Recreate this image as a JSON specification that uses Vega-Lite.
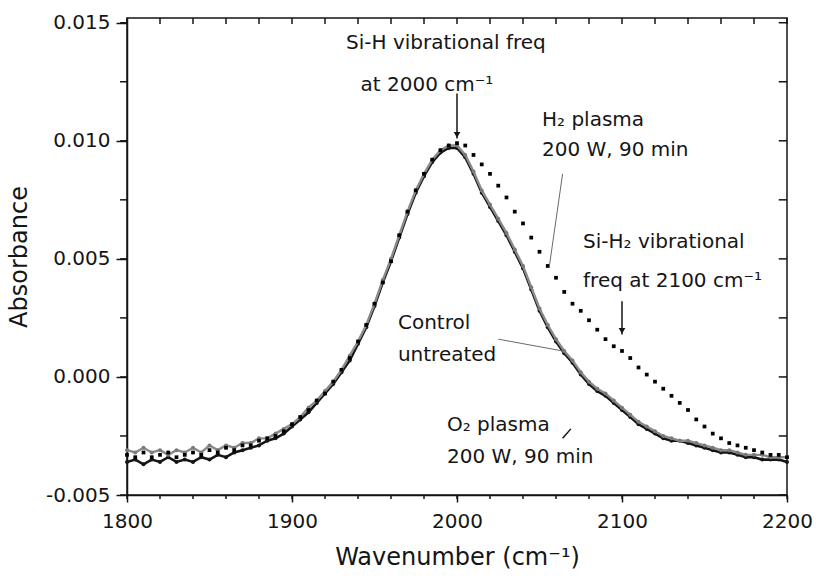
{
  "$schema": "https://vega.github.io/schema/vega-lite/v6.json",
  "autosize": "none",
  "width": 660,
  "height": 477,
  "padding": {"left": 127, "top": 18, "right": 30, "bottom": 89},
  "background": "white",
  "config": {"view": {"stroke": "#151515", "strokeWidth": 1.5}, "font": "DejaVu Sans"},
  "datasets": {
    "spec": [
      {"w":1800,"a":-0.0031,"s":"C"},{"w":1805,"a":-0.0032,"s":"C"},{"w":1810,"a":-0.0030,"s":"C"},{"w":1815,"a":-0.0032,"s":"C"},{"w":1820,"a":-0.0031,"s":"C"},{"w":1825,"a":-0.0033,"s":"C"},{"w":1830,"a":-0.0031,"s":"C"},{"w":1835,"a":-0.0032,"s":"C"},{"w":1840,"a":-0.0030,"s":"C"},{"w":1845,"a":-0.0032,"s":"C"},{"w":1850,"a":-0.0029,"s":"C"},{"w":1855,"a":-0.0031,"s":"C"},{"w":1860,"a":-0.0029,"s":"C"},{"w":1865,"a":-0.0030,"s":"C"},{"w":1870,"a":-0.0028,"s":"C"},{"w":1875,"a":-0.0028,"s":"C"},{"w":1880,"a":-0.0026,"s":"C"},{"w":1885,"a":-0.0026,"s":"C"},{"w":1890,"a":-0.0024,"s":"C"},{"w":1895,"a":-0.0022,"s":"C"},{"w":1900,"a":-0.0020,"s":"C"},{"w":1905,"a":-0.0017,"s":"C"},{"w":1910,"a":-0.0013,"s":"C"},{"w":1915,"a":-0.0010,"s":"C"},{"w":1920,"a":-0.0006,"s":"C"},{"w":1925,"a":-0.0002,"s":"C"},{"w":1930,"a":0.0003,"s":"C"},{"w":1935,"a":0.0009,"s":"C"},{"w":1940,"a":0.0015,"s":"C"},{"w":1945,"a":0.0022,"s":"C"},{"w":1950,"a":0.0031,"s":"C"},{"w":1955,"a":0.0041,"s":"C"},{"w":1960,"a":0.0050,"s":"C"},{"w":1965,"a":0.0060,"s":"C"},{"w":1970,"a":0.0070,"s":"C"},{"w":1975,"a":0.0079,"s":"C"},{"w":1980,"a":0.0086,"s":"C"},{"w":1985,"a":0.0092,"s":"C"},{"w":1990,"a":0.0096,"s":"C"},{"w":1995,"a":0.0098,"s":"C"},{"w":2000,"a":0.0098,"s":"C"},{"w":2005,"a":0.0094,"s":"C"},{"w":2010,"a":0.0087,"s":"C"},{"w":2015,"a":0.0079,"s":"C"},{"w":2020,"a":0.0073,"s":"C"},{"w":2025,"a":0.0067,"s":"C"},{"w":2030,"a":0.0061,"s":"C"},{"w":2035,"a":0.0054,"s":"C"},{"w":2040,"a":0.0047,"s":"C"},{"w":2045,"a":0.0038,"s":"C"},{"w":2050,"a":0.0029,"s":"C"},{"w":2055,"a":0.0022,"s":"C"},{"w":2060,"a":0.0016,"s":"C"},{"w":2065,"a":0.0011,"s":"C"},{"w":2070,"a":0.0007,"s":"C"},{"w":2075,"a":0.0002,"s":"C"},{"w":2080,"a":-0.0002,"s":"C"},{"w":2085,"a":-0.0005,"s":"C"},{"w":2090,"a":-0.0007,"s":"C"},{"w":2095,"a":-0.0010,"s":"C"},{"w":2100,"a":-0.0013,"s":"C"},{"w":2105,"a":-0.0016,"s":"C"},{"w":2110,"a":-0.0019,"s":"C"},{"w":2115,"a":-0.0021,"s":"C"},{"w":2120,"a":-0.0023,"s":"C"},{"w":2125,"a":-0.0025,"s":"C"},{"w":2130,"a":-0.0026,"s":"C"},{"w":2135,"a":-0.0027,"s":"C"},{"w":2140,"a":-0.0027,"s":"C"},{"w":2145,"a":-0.0028,"s":"C"},{"w":2150,"a":-0.0029,"s":"C"},{"w":2155,"a":-0.0030,"s":"C"},{"w":2160,"a":-0.0031,"s":"C"},{"w":2165,"a":-0.0031,"s":"C"},{"w":2170,"a":-0.0032,"s":"C"},{"w":2175,"a":-0.0033,"s":"C"},{"w":2180,"a":-0.0033,"s":"C"},{"w":2185,"a":-0.0033,"s":"C"},{"w":2190,"a":-0.0034,"s":"C"},{"w":2195,"a":-0.0034,"s":"C"},{"w":2200,"a":-0.0034,"s":"C"},
      {"w":1800,"a":-0.0036,"s":"O"},{"w":1805,"a":-0.0035,"s":"O"},{"w":1810,"a":-0.0037,"s":"O"},{"w":1815,"a":-0.0035,"s":"O"},{"w":1820,"a":-0.0036,"s":"O"},{"w":1825,"a":-0.0034,"s":"O"},{"w":1830,"a":-0.0036,"s":"O"},{"w":1835,"a":-0.0035,"s":"O"},{"w":1840,"a":-0.0036,"s":"O"},{"w":1845,"a":-0.0034,"s":"O"},{"w":1850,"a":-0.0035,"s":"O"},{"w":1855,"a":-0.0033,"s":"O"},{"w":1860,"a":-0.0034,"s":"O"},{"w":1865,"a":-0.0032,"s":"O"},{"w":1870,"a":-0.0031,"s":"O"},{"w":1875,"a":-0.0030,"s":"O"},{"w":1880,"a":-0.0029,"s":"O"},{"w":1885,"a":-0.0027,"s":"O"},{"w":1890,"a":-0.0026,"s":"O"},{"w":1895,"a":-0.0024,"s":"O"},{"w":1900,"a":-0.0021,"s":"O"},{"w":1905,"a":-0.0018,"s":"O"},{"w":1910,"a":-0.0015,"s":"O"},{"w":1915,"a":-0.0011,"s":"O"},{"w":1920,"a":-0.0007,"s":"O"},{"w":1925,"a":-0.0003,"s":"O"},{"w":1930,"a":0.0002,"s":"O"},{"w":1935,"a":0.0007,"s":"O"},{"w":1940,"a":0.0014,"s":"O"},{"w":1945,"a":0.0021,"s":"O"},{"w":1950,"a":0.0030,"s":"O"},{"w":1955,"a":0.0040,"s":"O"},{"w":1960,"a":0.0049,"s":"O"},{"w":1965,"a":0.0059,"s":"O"},{"w":1970,"a":0.0069,"s":"O"},{"w":1975,"a":0.0078,"s":"O"},{"w":1980,"a":0.0085,"s":"O"},{"w":1985,"a":0.0091,"s":"O"},{"w":1990,"a":0.0095,"s":"O"},{"w":1995,"a":0.0097,"s":"O"},{"w":2000,"a":0.0097,"s":"O"},{"w":2005,"a":0.0093,"s":"O"},{"w":2010,"a":0.0086,"s":"O"},{"w":2015,"a":0.0078,"s":"O"},{"w":2020,"a":0.0072,"s":"O"},{"w":2025,"a":0.0066,"s":"O"},{"w":2030,"a":0.0060,"s":"O"},{"w":2035,"a":0.0053,"s":"O"},{"w":2040,"a":0.0046,"s":"O"},{"w":2045,"a":0.0037,"s":"O"},{"w":2050,"a":0.0028,"s":"O"},{"w":2055,"a":0.0021,"s":"O"},{"w":2060,"a":0.0015,"s":"O"},{"w":2065,"a":0.0010,"s":"O"},{"w":2070,"a":0.0006,"s":"O"},{"w":2075,"a":0.0001,"s":"O"},{"w":2080,"a":-0.0003,"s":"O"},{"w":2085,"a":-0.0006,"s":"O"},{"w":2090,"a":-0.0008,"s":"O"},{"w":2095,"a":-0.0011,"s":"O"},{"w":2100,"a":-0.0014,"s":"O"},{"w":2105,"a":-0.0017,"s":"O"},{"w":2110,"a":-0.0020,"s":"O"},{"w":2115,"a":-0.0022,"s":"O"},{"w":2120,"a":-0.0024,"s":"O"},{"w":2125,"a":-0.0026,"s":"O"},{"w":2130,"a":-0.0027,"s":"O"},{"w":2135,"a":-0.0027,"s":"O"},{"w":2140,"a":-0.0028,"s":"O"},{"w":2145,"a":-0.0029,"s":"O"},{"w":2150,"a":-0.0030,"s":"O"},{"w":2155,"a":-0.0031,"s":"O"},{"w":2160,"a":-0.0032,"s":"O"},{"w":2165,"a":-0.0032,"s":"O"},{"w":2170,"a":-0.0033,"s":"O"},{"w":2175,"a":-0.0034,"s":"O"},{"w":2180,"a":-0.0034,"s":"O"},{"w":2185,"a":-0.0035,"s":"O"},{"w":2190,"a":-0.0035,"s":"O"},{"w":2195,"a":-0.0035,"s":"O"},{"w":2200,"a":-0.0036,"s":"O"},
      {"w":1800,"a":-0.0033,"s":"H"},{"w":1805,"a":-0.0034,"s":"H"},{"w":1810,"a":-0.0032,"s":"H"},{"w":1815,"a":-0.0034,"s":"H"},{"w":1820,"a":-0.0033,"s":"H"},{"w":1825,"a":-0.0032,"s":"H"},{"w":1830,"a":-0.0034,"s":"H"},{"w":1835,"a":-0.0033,"s":"H"},{"w":1840,"a":-0.0032,"s":"H"},{"w":1845,"a":-0.0033,"s":"H"},{"w":1850,"a":-0.0031,"s":"H"},{"w":1855,"a":-0.0032,"s":"H"},{"w":1860,"a":-0.0030,"s":"H"},{"w":1865,"a":-0.0031,"s":"H"},{"w":1870,"a":-0.0029,"s":"H"},{"w":1875,"a":-0.0029,"s":"H"},{"w":1880,"a":-0.0027,"s":"H"},{"w":1885,"a":-0.0026,"s":"H"},{"w":1890,"a":-0.0025,"s":"H"},{"w":1895,"a":-0.0023,"s":"H"},{"w":1900,"a":-0.0020,"s":"H"},{"w":1905,"a":-0.0017,"s":"H"},{"w":1910,"a":-0.0014,"s":"H"},{"w":1915,"a":-0.0010,"s":"H"},{"w":1920,"a":-0.0007,"s":"H"},{"w":1925,"a":-0.0002,"s":"H"},{"w":1930,"a":0.0003,"s":"H"},{"w":1935,"a":0.0008,"s":"H"},{"w":1940,"a":0.0015,"s":"H"},{"w":1945,"a":0.0022,"s":"H"},{"w":1950,"a":0.0031,"s":"H"},{"w":1955,"a":0.0040,"s":"H"},{"w":1960,"a":0.0049,"s":"H"},{"w":1965,"a":0.0060,"s":"H"},{"w":1970,"a":0.0070,"s":"H"},{"w":1975,"a":0.0079,"s":"H"},{"w":1980,"a":0.0086,"s":"H"},{"w":1985,"a":0.0092,"s":"H"},{"w":1990,"a":0.0096,"s":"H"},{"w":1995,"a":0.0098,"s":"H"},{"w":2000,"a":0.0099,"s":"H"},{"w":2005,"a":0.0098,"s":"H"},{"w":2010,"a":0.0094,"s":"H"},{"w":2015,"a":0.0090,"s":"H"},{"w":2020,"a":0.0086,"s":"H"},{"w":2025,"a":0.0081,"s":"H"},{"w":2030,"a":0.0076,"s":"H"},{"w":2035,"a":0.0070,"s":"H"},{"w":2040,"a":0.0065,"s":"H"},{"w":2045,"a":0.0059,"s":"H"},{"w":2050,"a":0.0053,"s":"H"},{"w":2055,"a":0.0047,"s":"H"},{"w":2060,"a":0.0042,"s":"H"},{"w":2065,"a":0.0036,"s":"H"},{"w":2070,"a":0.0031,"s":"H"},{"w":2075,"a":0.0028,"s":"H"},{"w":2080,"a":0.0024,"s":"H"},{"w":2085,"a":0.0020,"s":"H"},{"w":2090,"a":0.0016,"s":"H"},{"w":2095,"a":0.0013,"s":"H"},{"w":2100,"a":0.0011,"s":"H"},{"w":2105,"a":0.0008,"s":"H"},{"w":2110,"a":0.0004,"s":"H"},{"w":2115,"a":0.0001,"s":"H"},{"w":2120,"a":-0.0002,"s":"H"},{"w":2125,"a":-0.0005,"s":"H"},{"w":2130,"a":-0.0008,"s":"H"},{"w":2135,"a":-0.0011,"s":"H"},{"w":2140,"a":-0.0014,"s":"H"},{"w":2145,"a":-0.0018,"s":"H"},{"w":2150,"a":-0.0021,"s":"H"},{"w":2155,"a":-0.0024,"s":"H"},{"w":2160,"a":-0.0026,"s":"H"},{"w":2165,"a":-0.0028,"s":"H"},{"w":2170,"a":-0.0029,"s":"H"},{"w":2175,"a":-0.0030,"s":"H"},{"w":2180,"a":-0.0031,"s":"H"},{"w":2185,"a":-0.0032,"s":"H"},{"w":2190,"a":-0.0033,"s":"H"},{"w":2195,"a":-0.0033,"s":"H"},{"w":2200,"a":-0.0034,"s":"H"}
    ],
    "xticks": [
      {"v":1800},{"v":1820},{"v":1840},{"v":1860},{"v":1880},{"v":1900},{"v":1920},{"v":1940},{"v":1960},{"v":1980},{"v":2000},
      {"v":2020},{"v":2040},{"v":2060},{"v":2080},{"v":2100},{"v":2120},{"v":2140},{"v":2160},{"v":2180},{"v":2200}
    ],
    "yticks": [
      {"v":-0.005},{"v":-0.0025},{"v":0},{"v":0.0025},{"v":0.005},{"v":0.0075},{"v":0.01},{"v":0.0125},{"v":0.015}
    ],
    "notes": [
      {"t":"Si-H vibrational freq","w":1993.3,"a":0.01414,"al":"c"},
      {"t":"at 2000 cm⁻¹","w":1981.8,"a":0.01236,"al":"c"},
      {"t":"H₂ plasma","w":2051.5,"a":0.01088,"al":"l"},
      {"t":"200 W, 90 min","w":2051.5,"a":0.00961,"al":"l"},
      {"t":"Si-H₂ vibrational","w":2076.4,"a":0.00571,"al":"l"},
      {"t":"freq at 2100 cm⁻¹","w":2076.4,"a":0.00406,"al":"l"},
      {"t":"Control","w":1964.2,"a":0.00228,"al":"l"},
      {"t":"untreated","w":1964.2,"a":0.00093,"al":"l"},
      {"t":"O₂ plasma","w":1993.9,"a":-0.00204,"al":"l"},
      {"t":"200 W, 90 min","w":1993.9,"a":-0.00339,"al":"l"}
    ],
    "lines": [
      {"w":2000,"a":0.0120,"w2":2000,"a2":0.0101,"k":"arrow"},
      {"w":2100,"a":0.0032,"w2":2100,"a2":0.0018,"k":"arrow"},
      {"w":2064,"a":0.0086,"w2":2056,"a2":0.0047,"k":"lead"},
      {"w":2025,"a":0.0016,"w2":2064,"a2":0.0011,"k":"lead"},
      {"w":2064,"a":-0.0026,"w2":2069,"a2":-0.0022,"k":"arrow"}
    ],
    "heads": [
      {"w":2000,"a":0.01025},
      {"w":2100,"a":0.00195}
    ]
  },
  "layer": [
    {
      "data": {"name": "spec"},
      "transform": [{"filter": "datum.s === 'O'"}],
      "mark": {"type": "line", "color": "#151515", "strokeWidth": 2.6, "point": {"filled": true, "size": 16, "color": "#151515"}},
      "encoding": {
        "x": {"field": "w", "type": "quantitative", "scale": {"domain": [1800, 2200], "nice": false, "zero": false},
          "axis": {"orient": "bottom", "title": "Wavenumber (cm⁻¹)", "grid": false,
            "values": [1800,1900,2000,2100,2200], "format": "d", "labelOverlap": false, "labelFlush": false,
            "tickSize": 7, "tickColor": "#151515", "tickWidth": 1.5, "domainColor": "#151515", "domainWidth": 1.5,
            "labelFont": "DejaVu Sans", "labelFontSize": 20, "labelColor": "#151515", "labelPadding": 9,
            "titleFont": "DejaVu Sans", "titleFontSize": 24, "titleFontWeight": "normal", "titleColor": "#151515", "titlePadding": 14}},
        "y": {"field": "a", "type": "quantitative", "scale": {"domain": [-0.005, 0.0152], "nice": false, "zero": false},
          "axis": {"orient": "left", "title": "Absorbance", "grid": false,
            "values": [-0.005,0,0.005,0.01,0.015],
            "labelExpr": "replace(format(datum.value, '.3f'), '−', '-')", "labelOverlap": false, "labelFlush": false,
            "tickSize": 11, "tickColor": "#151515", "tickWidth": 1.5, "domainColor": "#151515", "domainWidth": 1.5,
            "labelFont": "DejaVu Sans", "labelFontSize": 20, "labelColor": "#151515", "labelPadding": 6,
            "titleFont": "DejaVu Sans", "titleFontSize": 24, "titleFontWeight": "normal", "titleColor": "#151515", "titlePadding": 14}}
      }
    },
    {
      "data": {"name": "spec"},
      "transform": [{"filter": "datum.s === 'C'"}],
      "mark": {"type": "line", "color": "#8a8a8a", "strokeWidth": 2.4, "point": {"filled": true, "size": 16, "color": "#7a7a7a"}},
      "encoding": {
        "x": {"field": "w", "type": "quantitative"},
        "y": {"field": "a", "type": "quantitative"}
      }
    },
    {
      "data": {"name": "spec"},
      "transform": [{"filter": "datum.s === 'H'"}],
      "mark": {"type": "square", "color": "#000", "size": 14, "opacity": 1},
      "encoding": {
        "x": {"field": "w", "type": "quantitative"},
        "y": {"field": "a", "type": "quantitative"}
      }
    },
    {
      "data": {"name": "xticks"},
      "mark": {"type": "rule", "color": "#151515", "strokeWidth": 1.5},
      "encoding": {
        "x": {"field": "v", "type": "quantitative"},
        "y": {"datum": 0.0152},
        "y2": {"datum": 0.01495}
      }
    },
    {
      "data": {"name": "xticks"},
      "mark": {"type": "rule", "color": "#151515", "strokeWidth": 1.5},
      "encoding": {
        "x": {"field": "v", "type": "quantitative"},
        "y": {"datum": -0.005},
        "y2": {"datum": -0.00517}
      }
    },
    {
      "data": {"name": "yticks"},
      "mark": {"type": "rule", "color": "#151515", "strokeWidth": 1.5},
      "encoding": {
        "y": {"field": "v", "type": "quantitative"},
        "x": {"datum": 2200},
        "x2": {"datum": 2195}
      }
    },
    {
      "data": {"name": "yticks"},
      "mark": {"type": "rule", "color": "#151515", "strokeWidth": 1.5},
      "encoding": {
        "y": {"field": "v", "type": "quantitative"},
        "x": {"datum": 1800},
        "x2": {"datum": 1795.8}
      }
    },
    {
      "data": {"name": "lines"},
      "transform": [{"filter": "datum.k === 'arrow'"}],
      "mark": {"type": "rule", "color": "#151515", "strokeWidth": 1.5},
      "encoding": {
        "x": {"field": "w", "type": "quantitative"},
        "y": {"field": "a", "type": "quantitative"},
        "x2": {"field": "w2"},
        "y2": {"field": "a2"}
      }
    },
    {
      "data": {"name": "lines"},
      "transform": [{"filter": "datum.k === 'lead'"}],
      "mark": {"type": "rule", "color": "#6a6a6a", "strokeWidth": 1},
      "encoding": {
        "x": {"field": "w", "type": "quantitative"},
        "y": {"field": "a", "type": "quantitative"},
        "x2": {"field": "w2"},
        "y2": {"field": "a2"}
      }
    },
    {
      "data": {"name": "heads"},
      "mark": {"type": "point", "shape": "triangle-down", "filled": true, "color": "#151515", "size": 45, "opacity": 1},
      "encoding": {
        "x": {"field": "w", "type": "quantitative"},
        "y": {"field": "a", "type": "quantitative"}
      }
    },
    {
      "data": {"name": "notes"},
      "transform": [{"filter": "datum.al === 'c'"}],
      "mark": {"type": "text", "align": "center", "baseline": "middle", "font": "DejaVu Sans", "fontSize": 20, "color": "#151515"},
      "encoding": {
        "x": {"field": "w", "type": "quantitative"},
        "y": {"field": "a", "type": "quantitative"},
        "text": {"field": "t"}
      }
    },
    {
      "data": {"name": "notes"},
      "transform": [{"filter": "datum.al === 'l'"}],
      "mark": {"type": "text", "align": "left", "baseline": "middle", "font": "DejaVu Sans", "fontSize": 20, "color": "#151515"},
      "encoding": {
        "x": {"field": "w", "type": "quantitative"},
        "y": {"field": "a", "type": "quantitative"},
        "text": {"field": "t"}
      }
    }
  ]
}
